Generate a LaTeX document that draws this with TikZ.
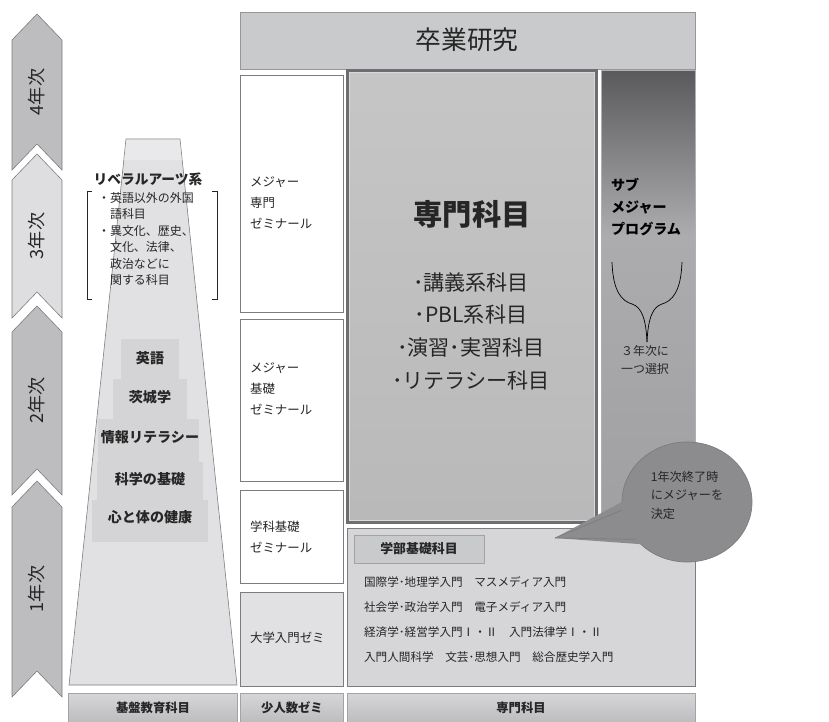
\documentclass[tikz,border=0pt]{standalone}
\usepackage{fontspec}
\setmainfont{Noto Sans CJK JP}
\usepackage{tikz}
\usetikzlibrary{calc, shapes.geometric}
\usepackage{xcolor}

\definecolor{chevdark}{HTML}{BDBDBF}
\definecolor{chevlight}{HTML}{DEDEE0}
\definecolor{edgegray}{HTML}{7C7C7E}
\definecolor{trapfill}{HTML}{E1E1E3}
\definecolor{traptop}{HTML}{E9E9EB}
\definecolor{stepfill}{HTML}{D4D4D6}
\definecolor{headgray}{HTML}{C9CACC}
\definecolor{coregray}{HTML}{6E6E70}
\definecolor{callgray}{HTML}{8C8C8E}
\definecolor{basegray}{HTML}{D6D6D8}
\definecolor{textgray}{HTML}{262626}
\definecolor{subtop}{HTML}{5A5A5C}
\definecolor{submid}{HTML}{ACACAE}
\definecolor{subbot}{HTML}{A0A0A2}

\newcommand{\fsz}[2]{\fontsize{#1}{#2}\selectfont}

\begin{document}
\begin{tikzpicture}[x=0.03cm, y=-0.03cm,
    chev/.style={draw=edgegray, line width=0.5pt},
    yeartext/.style={font=\fsz{15.5pt}{18pt}, text=textgray},
    colbox/.style={draw=edgegray, line width=0.6pt, fill=white},
    coltext/.style={anchor=west, align=left, font=\fsz{10.6pt}{17.9pt}, text=textgray},
    steptext/.style={font=\bfseries\fsz{12pt}{14pt}, text=textgray},
    bullettext/.style={align=center, font=\fsz{18pt}{27.9pt}, text=textgray},
    coursetext/.style={anchor=west, align=left, font=\fsz{9.9pt}{21.3pt}, text=textgray},
    footbox/.style={draw=edgegray!70, line width=0.5pt, top color=basegray, bottom color=chevdark},
    foottext/.style={font=\bfseries\fsz{10.5pt}{12pt}, text=textgray}]

    % page frame
    \useasboundingbox (0,0) rectangle (829,722);

    % year chevrons
    \foreach \i/\ta/\bs/\col in {4/14/170/chevdark, 3/154/318/chevlight, 2/306/495/chevdark, 1/481/697/chevdark}
    {
        \draw[chev, fill=\col] (37,\ta) -- (62,\ta+26) -- (62,\bs) -- (37,\bs-26) -- (12,\bs) -- (12,\ta+26) -- cycle;
        \node[yeartext, rotate=90] (year\i) at (37,{(\ta+\bs)/2}) {\i{}年次};
    }

    % liberal arts pyramid
    \draw[chev, fill=trapfill] (126,139) -- (180,139) -- (237,685) -- (69,685) -- cycle;
    \fill[traptop] (126.5,139.5) -- (179.5,139.5) -- (181.7,160) -- (124.3,160) -- cycle;
    \fill[stepfill] (121,339) rectangle (179,379);
    \fill[stepfill] (113,379) rectangle (187,419);
    \fill[stepfill] (98,419) rectangle (199,462);
    \fill[stepfill] (97,462) rectangle (203,500);
    \fill[stepfill] (92,500) rectangle (208,542);
    \foreach \n/\y/\t in {eigo/358/英語, ibaraki/397/茨城学, joho/437/情報リテラシー, kagaku/479/科学の基礎, kenko/517/心と体の健康}
        \node[steptext] (\n) at (150,\y) {\t};

    \node[font=\bfseries\fsz{11.7pt}{14pt}, text=textgray] (libarts) at (148,179) {リベラルアーツ系};
    \node[anchor=west, align=left, font=\fsz{10.2pt}{14pt}, text=textgray] (libitems) at (94,239)
        {・英語以外の外国\\\hphantom{・}語科目\\・異文化、歴史、\\\hphantom{・}文化、法律、\\\hphantom{・}政治などに\\\hphantom{・}関する科目};
    \draw[textgray, line width=0.5pt] (92,191) -- (87,191) -- (87,299) -- (92,299);
    \draw[textgray, line width=0.5pt] (212,191) -- (217,191) -- (217,299) -- (212,299);

    % graduation research
    \draw[fill=headgray, draw=edgegray!80, line width=0.6pt] (240,12) rectangle (695,69);
    \node[font=\fsz{22pt}{26pt}, text=textgray] (sotsugyo) at (467,40) {卒業研究};

    % seminar column
    \draw[colbox] (240,75) rectangle (343,312);
    \draw[colbox] (240,319) rectangle (343,481);
    \draw[colbox] (240,490) rectangle (343,583);
    \draw[colbox, fill=trapfill] (240,592) rectangle (343,686);
    \node[coltext] (senmonzemi) at (246,203) {メジャー\\専門\\ゼミナール};
    \node[coltext] (kisozemi) at (246,389) {メジャー\\基礎\\ゼミナール};
    \node[coltext] (gakkazemi) at (246,537) {学科基礎\\ゼミナール};
    \node[coltext] (nyumonzemi) at (246,638) {大学入門ゼミ};

    % major subjects
    \fill[coregray] (346,69) rectangle (598,524);
    \shade[top color=gray!45, bottom color=gray!55, draw=gray!30, line width=1pt] (349.5,72.5) rectangle (594.5,520.5);
    \node[font=\bfseries\fsz{25pt}{28pt}, text=textgray] (senmon) at (472,214) {専門科目};
    \node[bullettext] (kamoku) at (471,331) {･講義系科目\\･PBL系科目\\･演習･実習科目\\･リテラシー科目};

    % sub major program
    \shade[top color=subtop, bottom color=submid] (601,70) rectangle (695,235);
    \shade[top color=submid, bottom color=subbot] (601,235) rectangle (695,521);
    \draw[draw=edgegray!60, line width=0.5pt] (601,70) rectangle (695,521);
    \node[anchor=west, align=left, font=\bfseries\fsz{12pt}{18.4pt}, text=black] (submajor) at (607,207) {サブ\\メジャー\\プログラム};
    \draw[black, line width=0.6pt] (612,262) .. controls (613,292) and (622,301) .. (632,304) .. controls (642,307) and (646,320) .. (647,342);
    \draw[black, line width=0.6pt] (682,262) .. controls (681,292) and (672,301) .. (662,304) .. controls (652,307) and (648,320) .. (647,342);
    \node[align=center, font=\fsz{10.2pt}{15.4pt}, text=textgray] (sentaku) at (645,360) {３年次に\\一つ選択};

    % faculty basic subjects
    \draw[fill=basegray, draw=edgegray, line width=0.6pt] (347,528) rectangle (695,686);
    \node[draw=edgegray!70, fill=headgray, line width=0.5pt, minimum width=3.9cm, minimum height=0.84cm,
        font=\bfseries\fsz{11pt}{13pt}, text=textgray] (gakubu) at (419,549) {学部基礎科目};
    \node[coursetext] (courses) at (360,619.5)
        {国際学･地理学入門　マスメディア入門\\社会学･政治学入門　電子メディア入門\\経済学･経営学入門Ⅰ・Ⅱ　入門法律学Ⅰ・Ⅱ\\入門人間科学　文芸･思想入門　総合歴史学入門};

    % callout
    \coordinate (tip) at (555,538);
    \node[ellipse, fill=callgray, draw=edgegray, line width=0.6pt, minimum width=3.9cm, minimum height=3.6cm] (bubble) at (687,502) {};
    \fill[callgray] (bubble.180) -- (tip) -- (bubble.222) -- (bubble.center) -- cycle;
    \draw[edgegray, line width=0.6pt] (tip) -- (bubble.187);
    \draw[edgegray, line width=0.6pt] (tip) -- (bubble.216);
    \node[align=left, font=\fsz{10.4pt}{15.8pt}, text=textgray] (decide) at (687,495) {1年次終了時\\にメジャーを\\決定};

    % footer labels
    \shade[footbox] (68,693) rectangle (237,722);
    \shade[footbox] (240,693) rectangle (343,722);
    \shade[footbox] (347,693) rectangle (695,722);
    \node[foottext] (kiban) at (153,708) {基盤教育科目};
    \node[foottext] (shonin) at (292,708) {少人数ゼミ};
    \node[foottext] (senmonfoot) at (521,708) {専門科目};
\end{tikzpicture}
\end{document}
